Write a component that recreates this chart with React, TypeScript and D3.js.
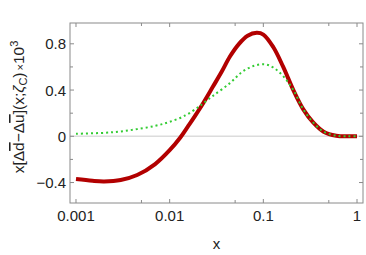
import React from 'react';
import * as d3 from 'd3';

// values (x on a log axis)
const redX = [0.001, 0.0015, 0.002, 0.003, 0.0045, 0.007, 0.01, 0.013, 0.0158, 0.0186, 0.0227, 0.029, 0.036, 0.044, 0.055, 0.068, 0.085, 0.1, 0.128, 0.163, 0.209, 0.266, 0.34, 0.44, 0.6, 0.8, 1];
const redY = [-0.37, -0.385, -0.39, -0.378, -0.335, -0.24, -0.12, -0.01, 0.09, 0.175, 0.284, 0.43, 0.56, 0.69, 0.8, 0.87, 0.895, 0.88, 0.77, 0.6, 0.4, 0.235, 0.12, 0.04, 0.005, 0, 0];

const greenX = [0.001, 0.002, 0.003, 0.0045, 0.007, 0.01, 0.0147, 0.02, 0.0227, 0.029, 0.044, 0.06, 0.08, 0.104, 0.128, 0.163, 0.209, 0.266, 0.34, 0.44, 0.6, 0.8, 1];
const greenY = [0.022, 0.03, 0.042, 0.062, 0.09, 0.125, 0.18, 0.25, 0.284, 0.35, 0.46, 0.56, 0.61, 0.623, 0.595, 0.52, 0.4, 0.235, 0.12, 0.04, 0.005, 0, 0];

const xMajor = [0.001, 0.01, 0.1, 1];
const xMajorLabels = ['0.001', '0.01', '0.1', '1'];
const xMinor = [0.005, 0.05, 0.5];
const yMajor = [-0.4, 0, 0.4, 0.8];
const yMajorLabels = ['\u22120.4', '0', '0.4', '0.8'];
const yMinor = [-0.2, 0.2, 0.6];

const W = 366;
const H = 255;
const frame = { left: 70, right: 363, top: 23, bottom: 203 };
const font = "'Liberation Sans', Arial, sans-serif";
const axisColor = '#8a8a8a';

export default function App() {
  const x = d3.scaleLog()
    .domain([Math.pow(10, -3.064), Math.pow(10, 0.064)])
    .range([frame.left, frame.right]);
  const y = d3.scaleLinear().domain([-0.577, 0.98]).range([frame.bottom, frame.top]);

  const line = d3.line<[number, number]>()
    .x(d => x(d[0]))
    .y(d => y(d[1]))
    .curve(d3.curveCatmullRom.alpha(0.5));

  const red = line(redX.map((v, i) => [v, redY[i]] as [number, number])) ?? '';
  const green = line(greenX.map((v, i) => [v, greenY[i]] as [number, number])) ?? '';

  const major = 4;
  const minor = 3;

  return (
    <svg width={W} height={H} style={{ position: 'absolute', left: 0, top: 0, fontFamily: font }}>
      <rect x={0} y={0} width={W} height={H} fill="#fff" />
      {/* zero line */}
      <line x1={frame.left} x2={frame.right} y1={y(0)} y2={y(0)} stroke="#dcdcdc" strokeWidth={1.5} />

      <path d={red} fill="none" stroke="#b20000" strokeWidth={4} strokeLinejoin="round" />
      <path d={green} fill="none" stroke="#33cc33" strokeWidth={2} strokeDasharray="2,3" />

      {/* frame */}
      <rect x={frame.left} y={frame.top} width={frame.right - frame.left} height={frame.bottom - frame.top}
        fill="none" stroke={axisColor} strokeWidth={1} />

      {/* x ticks */}
      {xMajor.map(v => (
        <g key={'xM' + v}>
          <line x1={x(v)} x2={x(v)} y1={frame.bottom} y2={frame.bottom - major} stroke={axisColor} />
          <line x1={x(v)} x2={x(v)} y1={frame.top} y2={frame.top + major} stroke={axisColor} />
        </g>
      ))}
      {xMinor.map(v => (
        <g key={'xm' + v}>
          <line x1={x(v)} x2={x(v)} y1={frame.bottom} y2={frame.bottom - minor} stroke={axisColor} />
          <line x1={x(v)} x2={x(v)} y1={frame.top} y2={frame.top + minor} stroke={axisColor} />
        </g>
      ))}
      {xMajor.map((v, i) => (
        <text key={'xl' + v} x={x(v)} y={221} textAnchor="middle" fontSize={15} fill="#222" style={{ fontFamily: font }}>{xMajorLabels[i]}</text>
      ))}

      {/* y ticks */}
      {yMajor.map(v => (
        <g key={'yM' + v}>
          <line x1={frame.left} x2={frame.left + major} y1={y(v)} y2={y(v)} stroke={axisColor} />
          <line x1={frame.right} x2={frame.right - major} y1={y(v)} y2={y(v)} stroke={axisColor} />
        </g>
      ))}
      {yMinor.map(v => (
        <g key={'ym' + v}>
          <line x1={frame.left} x2={frame.left + minor} y1={y(v)} y2={y(v)} stroke={axisColor} />
          <line x1={frame.right} x2={frame.right - minor} y1={y(v)} y2={y(v)} stroke={axisColor} />
        </g>
      ))}
      {yMajor.map((v, i) => (
        <text key={'yl' + v} x={66} y={y(v) + 5.5} textAnchor="end" fontSize={15} fill="#222" style={{ fontFamily: font }}>{yMajorLabels[i]}</text>
      ))}

      {/* axis titles */}
      <text x={(frame.left + frame.right) / 2} y={249} textAnchor="middle" fontSize={15} fill="#222" style={{ fontFamily: font }}>x</text>
      <text transform={`translate(24,${(frame.top + frame.bottom) / 2 - 6}) rotate(-90)`} textAnchor="middle" fontSize={15.5} fill="#222" style={{ fontFamily: font }}>
        x[Δ<tspan style={{ textDecoration: 'overline' }}>d</tspan>−Δ<tspan style={{ textDecoration: 'overline' }}>u</tspan>](x;<tspan fontStyle="italic">ζ</tspan><tspan fontSize={11} dy={3}>C</tspan><tspan dy={-3}>)</tspan><tspan fontSize={11} dx={2}>×</tspan><tspan>10</tspan><tspan fontSize={11} dy={-6}>3</tspan>
      </text>
    </svg>
  );
}
